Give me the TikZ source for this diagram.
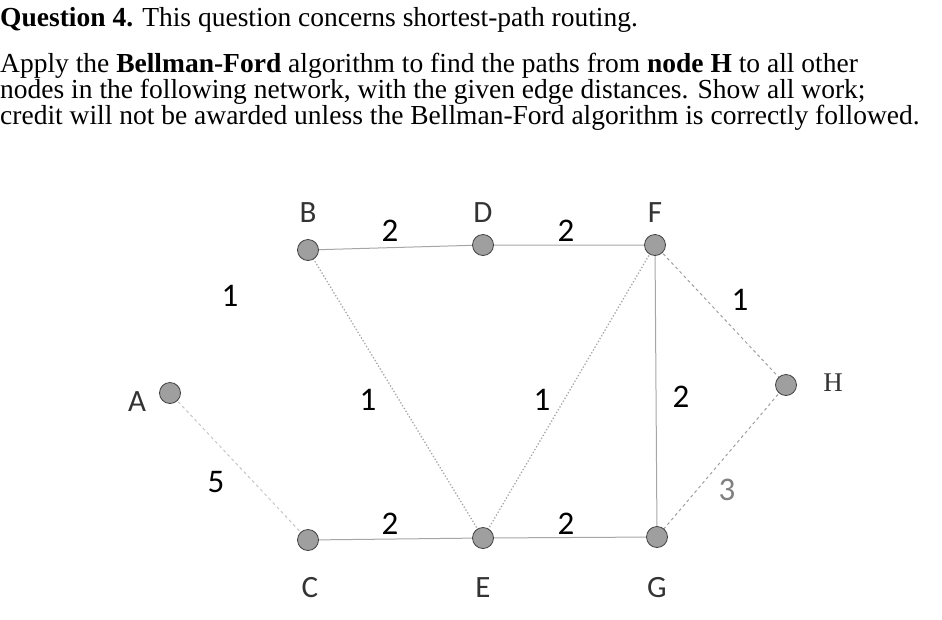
\documentclass[tikz,border=0pt]{standalone}
\usepackage{fontspec}
\setmainfont{Liberation Serif}
\newfontfamily\calfont{Carlito}
\begin{document}
\begin{tikzpicture}[x=1pt,y=-1pt,
 vtx/.style={circle,fill=gray!75,draw=gray!50!black,line width=0.8pt,minimum size=21pt,inner sep=0pt},
 lab/.style={font=\calfont\fontsize{31}{31}\selectfont,text=black!80},
 wt/.style={font=\calfont\fontsize{33}{33}\selectfont},
 txt/.style={anchor=west,inner sep=0pt,font=\fontsize{27.5}{27.5}\selectfont},
 sol/.style={draw=gray!70,line width=1pt},
 dot/.style={draw=gray!70,line width=1.3pt,dotted},
 dsh/.style={draw=gray!75,line width=1pt,dashed}]
\useasboundingbox (0,0) rectangle (942,619);
\node[txt] (t1) at (0,20) {\textbf{Question 4.} This question concerns shortest-path routing.};
\node[txt] (t2) at (0,66) {Apply the \textbf{Bellman-Ford} algorithm to find the paths from \textbf{node H} to all other};
\node[txt] (t3) at (0,92) {nodes in the following network, with the given edge distances. Show all work;};
\node[txt] (t4) at (0,118) {credit will not be awarded unless the Bellman-Ford algorithm is correctly followed.};
\coordinate (B) at (308,250);
\coordinate (D) at (483,245);
\coordinate (F) at (655,245);
\coordinate (A) at (170,393);
\coordinate (H) at (786,385);
\coordinate (C) at (308,540);
\coordinate (E) at (483,538);
\coordinate (G) at (657,537);
\path[sol] (B)--(D)--(F)--(G)--(E)--(C);
\path[dot] (B)--(E)--(F);
\path[dsh] (F)--(H)--(G);
\path[dsh,draw=gray!45] (A)--(C);
\foreach \n in {A,B,C,D,E,F,G,H} \node[vtx] (v\n) at (\n) {};
\node[lab] (lB) at (308,213) {B};
\node[lab] (lD) at (483,213) {D};
\node[lab] (lF) at (655,213) {F};
\node[lab] (lA) at (137,402) {A};
\node[lab,font=\fontsize{27}{27}\selectfont] (lH) at (833,383) {H};
\node[lab] (lC) at (310,588) {C};
\node[lab] (lE) at (483,588) {E};
\node[lab] (lG) at (657,588) {G};
\node[wt] (w1) at (230,296) {1};
\node[wt] (w2) at (390,231) {2};
\node[wt] (w3) at (566,231) {2};
\node[wt] (w4) at (740,300) {1};
\node[wt] (w5) at (368,400) {1};
\node[wt] (w6) at (542,400) {1};
\node[wt] (w7) at (681,397) {2};
\node[wt,text=gray] (w8) at (727,490) {3};
\node[wt] (w9) at (216,482) {5};
\node[wt] (w10) at (390,524) {2};
\node[wt] (w11) at (566,524) {2};
\end{tikzpicture}
\end{document}
